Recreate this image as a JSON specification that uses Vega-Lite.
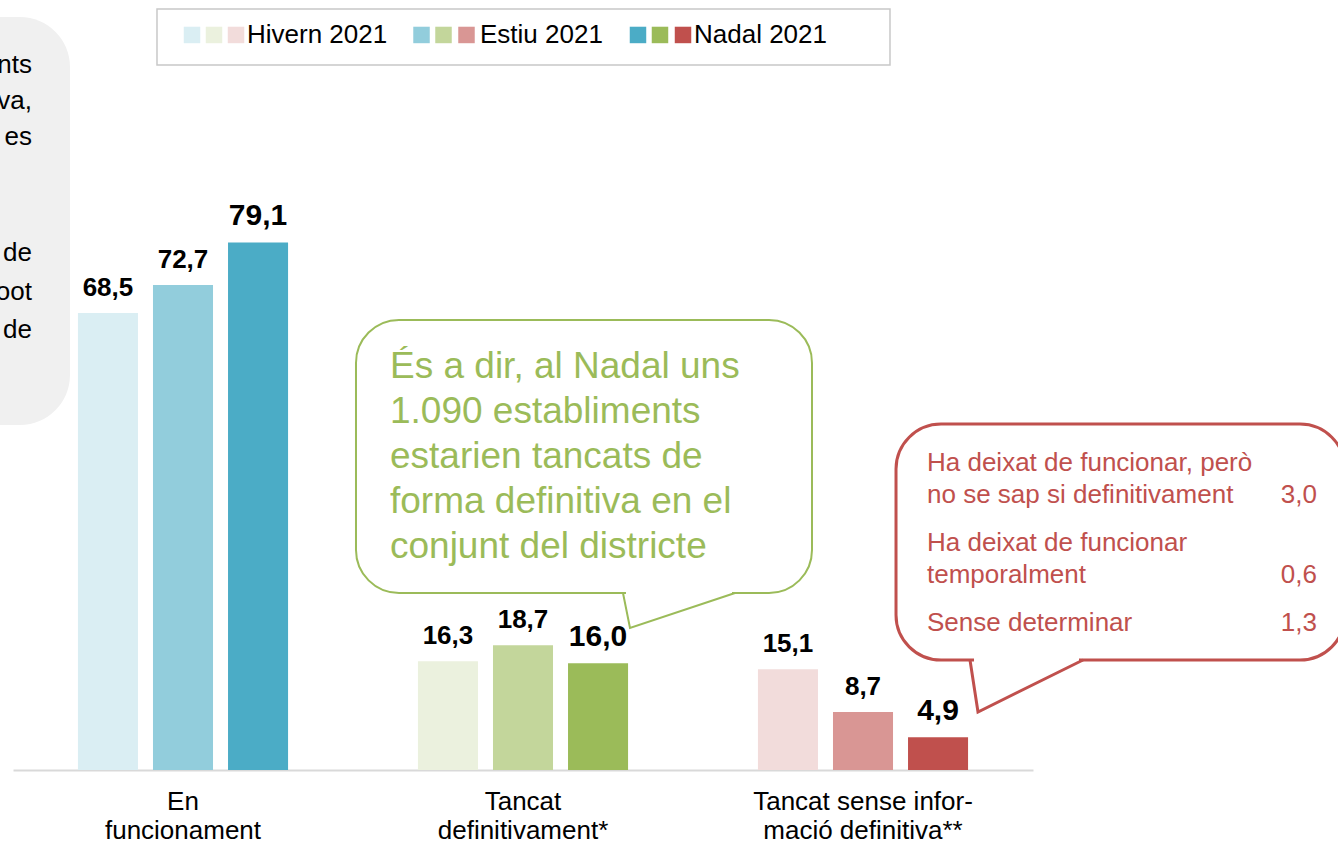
{
  "$schema": "https://vega.github.io/schema/vega-lite/v6.json",
  "width": 1020,
  "height": 667,
  "autosize": {"type": "none"},
  "padding": {"left": 13, "top": 103, "right": 305, "bottom": 73},
  "background": "white",
  "config": {
    "view": {"stroke": null},
    "font": "Liberation Sans",
    "locale": {"number": {"decimal": ",", "thousands": ".", "grouping": [3], "currency": ["", " €"]}}
  },
  "datasets": {
    "bars": [
      {"cat": "En funcionament", "period": "Hivern 2021", "value": 68.5},
      {"cat": "En funcionament", "period": "Estiu 2021", "value": 72.7},
      {"cat": "En funcionament", "period": "Nadal 2021", "value": 79.1},
      {"cat": "Tancat definitivament*", "period": "Hivern 2021", "value": 16.3},
      {"cat": "Tancat definitivament*", "period": "Estiu 2021", "value": 18.7},
      {"cat": "Tancat definitivament*", "period": "Nadal 2021", "value": 16.0},
      {"cat": "Tancat sense informació definitiva**", "period": "Hivern 2021", "value": 15.1},
      {"cat": "Tancat sense informació definitiva**", "period": "Estiu 2021", "value": 8.7},
      {"cat": "Tancat sense informació definitiva**", "period": "Nadal 2021", "value": 4.9}
    ],
    "legendSquares": [
      {"cat": "En funcionament", "period": "Hivern 2021", "u": 0.5265, "v": 110.2},
      {"cat": "Tancat definitivament*", "period": "Hivern 2021", "u": 0.5912, "v": 110.2},
      {"cat": "Tancat sense informació definitiva**", "period": "Hivern 2021", "u": 0.6559, "v": 110.2},
      {"cat": "En funcionament", "period": "Estiu 2021", "u": 1.2015, "v": 110.2},
      {"cat": "Tancat definitivament*", "period": "Estiu 2021", "u": 1.2662, "v": 110.2},
      {"cat": "Tancat sense informació definitiva**", "period": "Estiu 2021", "u": 1.3338, "v": 110.2},
      {"cat": "En funcionament", "period": "Nadal 2021", "u": 1.8382, "v": 110.2},
      {"cat": "Tancat definitivament*", "period": "Nadal 2021", "u": 1.9029, "v": 110.2},
      {"cat": "Tancat sense informació definitiva**", "period": "Nadal 2021", "u": 1.9706, "v": 110.2}
    ],
    "legendLabels": [
      {"text": "Hivern 2021", "u": 0.6882, "v": 110.2},
      {"text": "Estiu 2021", "u": 1.3735, "v": 110.2},
      {"text": "Nadal 2021", "u": 2.0029, "v": 110.2}
    ],
    "greyText": [
      {"text": "nts", "u": 0.0559, "v": 105.7},
      {"text": "va,", "u": 0.0559, "v": 100.3},
      {"text": "es", "u": 0.0559, "v": 94.9},
      {"text": "de", "u": 0.0559, "v": 77.5},
      {"text": "oot", "u": 0.0559, "v": 71.7},
      {"text": "de", "u": 0.0559, "v": 66.0}
    ],
    "greenText": [
      {"text": "És a dir, al Nadal uns", "u": 1.1088, "v": 60.42},
      {"text": "1.090 establiments", "u": 1.1088, "v": 53.67},
      {"text": "estarien tancats de", "u": 1.1088, "v": 46.93},
      {"text": "forma definitiva en el", "u": 1.1088, "v": 40.18},
      {"text": "conjunt del districte", "u": 1.1088, "v": 33.43}
    ],
    "redText": [
      {"text": "Ha deixat de funcionar, però", "u": 2.6882, "v": 46.03},
      {"text": "no se sap si definitivament", "u": 2.6882, "v": 41.23},
      {"text": "Ha deixat de funcionar", "u": 2.6882, "v": 34.03},
      {"text": "temporalment", "u": 2.6882, "v": 29.24},
      {"text": "Sense determinar", "u": 2.6882, "v": 22.04}
    ],
    "redValues": [
      {"val": 3.0, "u": 3.8353, "v": 41.23},
      {"val": 0.6, "u": 3.8353, "v": 29.24},
      {"val": 1.3, "u": 3.8353, "v": 22.04}
    ]
  },
  "resolve": {"scale": {"x": "independent"}},
  "layer": [
    {
      "data": {"name": "bars"},
      "transform": [{"calculate": "datum.cat + ' / ' + datum.period", "as": "key"}],
      "encoding": {
        "x": {
          "field": "cat", "type": "nominal",
          "sort": ["En funcionament", "Tancat definitivament*", "Tancat sense informació definitiva**"],
          "scale": {"paddingInner": 0.382, "paddingOuter": 0.191},
          "axis": {
            "title": null, "ticks": false, "labelAngle": 0, "domainColor": "#d9d9d9", "domainWidth": 2,
            "labelFontSize": 26, "labelColor": "#000000", "labelFont": "Liberation Sans",
            "labelLineHeight": 29, "labelPadding": 18, "labelBaseline": "top", "labelLimit": 500,
            "labelExpr": "datum.value == 'En funcionament' ? ['En', 'funcionament'] : datum.value == 'Tancat definitivament*' ? ['Tancat', 'definitivament*'] : ['Tancat sense infor-', 'mació definitiva**']"
          }
        },
        "xOffset": {
          "field": "period", "type": "nominal",
          "sort": ["Hivern 2021", "Estiu 2021", "Nadal 2021"],
          "scale": {"paddingInner": 0.2, "paddingOuter": 0}
        },
        "y": {"field": "value", "type": "quantitative", "scale": {"domain": [0, 100]}, "axis": null}
      },
      "layer": [
        {
          "mark": {"type": "bar"},
          "encoding": {
            "color": {
              "field": "key", "type": "nominal", "legend": null,
              "scale": {
                "domain": [
                  "En funcionament / Hivern 2021", "En funcionament / Estiu 2021", "En funcionament / Nadal 2021",
                  "Tancat definitivament* / Hivern 2021", "Tancat definitivament* / Estiu 2021", "Tancat definitivament* / Nadal 2021",
                  "Tancat sense informació definitiva** / Hivern 2021", "Tancat sense informació definitiva** / Estiu 2021", "Tancat sense informació definitiva** / Nadal 2021"
                ],
                "range": ["#DAEEF3", "#92CDDC", "#4BACC6", "#EBF1DE", "#C3D69B", "#9BBB59", "#F2DCDB", "#D99694", "#C0504D"]
              }
            }
          }
        },
        {
          "transform": [{"filter": "datum.period != 'Nadal 2021'"}],
          "mark": {"type": "text", "fontSize": 26, "fontWeight": "bold", "baseline": "alphabetic", "dy": -17, "color": "#000000"},
          "encoding": {"text": {"field": "value", "type": "quantitative", "format": ".1f"}}
        },
        {
          "transform": [{"filter": "datum.period == 'Nadal 2021'"}],
          "mark": {"type": "text", "fontSize": 30, "fontWeight": "bold", "baseline": "alphabetic", "dy": -17, "color": "#000000"},
          "encoding": {"text": {"field": "value", "type": "quantitative", "format": ".1f"}}
        }
      ]
    },
    {
      "encoding": {
        "x": {"field": "u", "type": "quantitative", "scale": {"domain": [0, 3], "nice": false, "zero": false}, "axis": null},
        "y": {"field": "v", "type": "quantitative", "scale": {"domain": [0, 100]}, "axis": null}
      },
      "layer": [
        {
          "data": {"values": [{"u": -0.2147, "u2": 0.1676, "v": 112.89, "v2": 51.72}]},
          "mark": {"type": "rect", "fill": "#f0f0f0", "cornerRadius": 50},
          "encoding": {"x2": {"field": "u2"}, "y2": {"field": "v2"}}
        },
        {
          "data": {"name": "greyText"},
          "mark": {"type": "text", "align": "right", "baseline": "middle", "fontSize": 26, "color": "#000000"},
          "encoding": {"text": {"field": "text"}}
        },
        {
          "data": {"values": [{"u": 0.4235, "u2": 2.5794, "v": 114.09, "v2": 105.7}]},
          "mark": {"type": "rect", "fill": "white", "stroke": "#c8c8c8", "strokeWidth": 1.5},
          "encoding": {"x2": {"field": "u2"}, "y2": {"field": "v2"}}
        },
        {
          "data": {"name": "legendSquares"},
          "transform": [{"calculate": "datum.cat + ' / ' + datum.period", "as": "key"}],
          "mark": {"type": "square", "size": 272, "filled": true, "opacity": 1},
          "encoding": {"color": {"field": "key", "type": "nominal", "legend": null}}
        },
        {
          "data": {"name": "legendLabels"},
          "mark": {"type": "text", "align": "left", "baseline": "middle", "fontSize": 26, "color": "#000000"},
          "encoding": {"text": {"field": "text"}}
        },
        {
          "data": {"values": [{"u": 1.0088, "u2": 2.35, "v": 67.47, "v2": 26.54}]},
          "mark": {"type": "rect", "fill": "white", "stroke": "#9BBB59", "strokeWidth": 2, "cornerRadius": 43},
          "encoding": {"x2": {"field": "u2"}, "y2": {"field": "v2"}}
        },
        {
          "data": {"values": [{"u": 1.8029, "v": 26.54}, {"u": 2.1147, "v": 26.54}]},
          "mark": {"type": "line", "color": "white", "strokeWidth": 5},
          "encoding": {}
        },
        {
          "data": {"values": [{"u": 1.7941, "v": 26.54}, {"u": 1.8147, "v": 21.29}, {"u": 2.1235, "v": 26.54}]},
          "mark": {"type": "line", "color": "#9BBB59", "strokeWidth": 2},
          "encoding": {}
        },
        {
          "data": {"name": "greenText"},
          "mark": {"type": "text", "align": "left", "baseline": "middle", "fontSize": 37, "color": "#9BBB59"},
          "encoding": {"text": {"field": "text"}}
        },
        {
          "data": {"values": [{"u": 2.5971, "u2": 3.9176, "v": 51.87, "v2": 16.49}]},
          "mark": {"type": "rect", "fill": "white", "stroke": "#C0504D", "strokeWidth": 3, "cornerRadius": 45},
          "encoding": {"x2": {"field": "u2"}, "y2": {"field": "v2"}}
        },
        {
          "data": {"values": [{"u": 2.8265, "v": 16.49}, {"u": 3.1353, "v": 16.49}]},
          "mark": {"type": "line", "color": "white", "strokeWidth": 6},
          "encoding": {}
        },
        {
          "data": {"values": [{"u": 2.8147, "v": 16.49}, {"u": 2.8382, "v": 8.7}, {"u": 3.1471, "v": 16.49}]},
          "mark": {"type": "line", "color": "#C0504D", "strokeWidth": 3},
          "encoding": {}
        },
        {
          "data": {"name": "redText"},
          "mark": {"type": "text", "align": "left", "baseline": "middle", "fontSize": 26, "color": "#C0504D"},
          "encoding": {"text": {"field": "text"}}
        },
        {
          "data": {"name": "redValues"},
          "mark": {"type": "text", "align": "right", "baseline": "middle", "fontSize": 26, "color": "#C0504D"},
          "encoding": {"text": {"field": "val", "type": "quantitative", "format": ".1f"}}
        }
      ]
    }
  ]
}
